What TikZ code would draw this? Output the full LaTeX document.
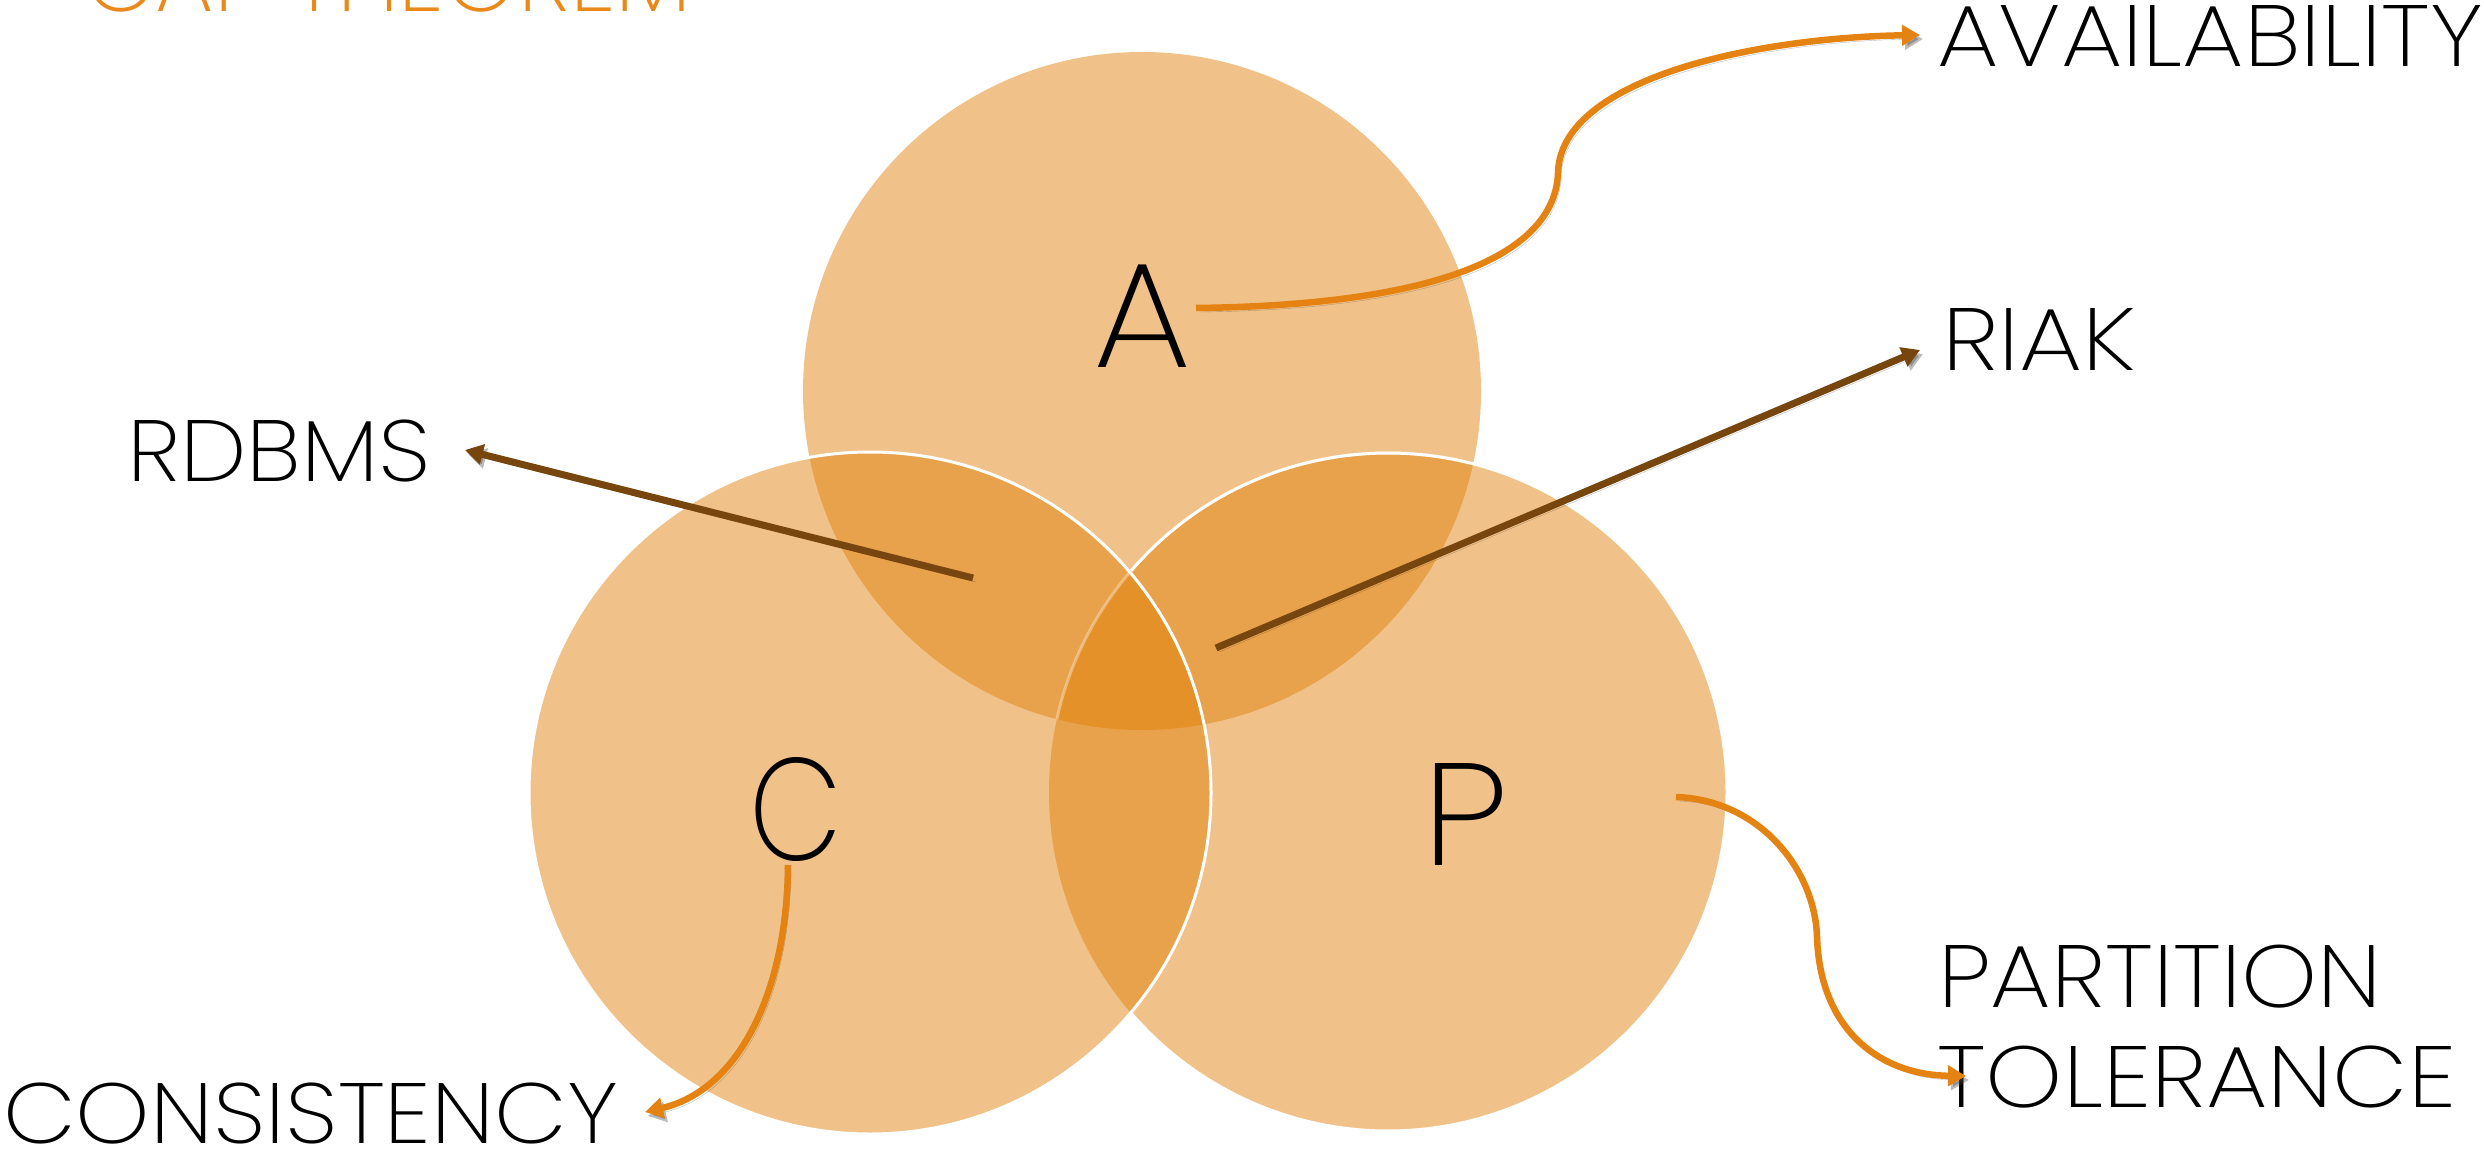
\documentclass[tikz,border=0pt]{standalone}
\usepackage{fontspec}
\usepackage{graphicx}
\IfFontExistsTF{Poppins ExtraLight}{\setmainfont{Poppins ExtraLight}}{%
 \IfFontExistsTF{Poppins Light}{\setmainfont{Poppins Light}}{%
  \IfFontExistsTF{Open Sans Light}{\setmainfont{Open Sans Light}}{%
    \setmainfont{Fira Sans}}}}
\usetikzlibrary{arrows.meta}
\definecolor{circ}{RGB}{225,127,7}
\definecolor{arrO}{RGB}{229,131,18}
\definecolor{arrB}{RGB}{118,70,14}
\definecolor{ttl}{RGB}{232,137,25}
\newlength\fitwd
\newlength\fitht
% #1 target width, #2 target cap height, #3 text
\newcommand\fitw[3]{\settowidth\fitwd{#3}\settoheight\fitht{H}\pgfmathsetmacro\fitratio{#1/\fitwd}\pgfmathsetmacro\fitvr{#2/\fitht}\scalebox{\fitratio}[\fitvr]{#3}}
\begin{document}
\begin{tikzpicture}[x=1pt,y=1pt,
  venn/.style={fill=circ, fill opacity=0.475},
  outl/.style={draw=white, line width=3pt},
  shad/.style={preaction={draw=black!75, opacity=0.35, transform canvas={shift={(3pt,-4pt)}}}},
  oarrow/.style={shad, draw=arrO, line width=6.5pt, -{Triangle[length=18pt,width=20pt]}},
  barrow/.style={shad, draw=arrB, line width=7pt, -{Triangle[length=18pt,width=20pt]}},
  lbl/.style={anchor=base west, inner sep=0pt, text=black, font=\fontsize{86}{100}\selectfont},
  big/.style={anchor=base, inner sep=0pt, text=black, font=\fontsize{146}{160}\selectfont},
  ttlstyle/.style={anchor=base west, inner sep=0pt, text=ttl, font=\fontsize{94}{100}\selectfont}]
\clip (0,0) rectangle (2484,-1153);
\fill[white] (0,0) rectangle (2484,-1153);

% circles
\coordinate (cA) at (1142,-391);
\coordinate (cC) at (870,-793);
\coordinate (cP) at (1388,-792);
\fill[venn] (cA) circle[radius=339];
\fill[venn] (cC) circle[radius=341];
\fill[venn] (cP) circle[radius=339];

% white outlines
\begin{scope}
  \clip (cA) circle[radius=339];
  \draw[outl, opacity=0.35] (cP) circle[radius=339];
\end{scope}
\draw[outl] (cP) ++(139.2:339) arc[start angle=139.2, end angle=-139.2, radius=339];
\draw[outl] (cC) circle[radius=341];

% title (cut by the top edge)
\node[ttlstyle] (title) at (84,-12) {\fitw{608pt}{66pt}{CAP THEOREM}};

% circle letters
\node[big] (lA) at (1142,-367) {\fitw{98pt}{105pt}{A}};
\node[big] (lC) at (796,-860) {\fitw{93pt}{102pt}{C}};
\node[big] (lP) at (1465,-865) {\fitw{86pt}{102pt}{P}};

% labels
\node[lbl] (avail) at (1937,-67) {\fitw{546pt}{61pt}{AVAILABILITY}};
\node[lbl] (riak) at (1942,-370) {\fitw{194pt}{62pt}{RIAK}};
\node[lbl] (rdbms) at (127,-481) {\fitw{304pt}{61pt}{RDBMS}};
\node[lbl] (cons) at (3,-1143) {\fitw{615pt}{60pt}{CONSISTENCY}};
\node[lbl] (part) at (1938,-1007) {\fitw{444pt}{62pt}{PARTITION}};
\node[lbl] (tol) at (1937,-1107) {\fitw{519pt}{61pt}{TOLERANCE}};

% arrow end points
\coordinate (aS) at (1196,-308);
\coordinate (aM) at (1558,-173);
\coordinate (aT) at (1920,-35);
\coordinate (rS) at (1216,-648);
\coordinate (rT) at (1920,-350);
\coordinate (dS) at (973,-578);
\coordinate (dT) at (465,-450);
\coordinate (cS) at (788,-865);
\coordinate (cT) at (645,-1112);
\coordinate (pS) at (1676,-797);
\coordinate (pM) at (1817,-937);
\coordinate (pT) at (1966,-1076);

% arrows
\draw[oarrow] (aS) .. controls (1450,-305) and (1555,-250) .. (aM)
                   .. controls (1560,-80) and (1750,-38) .. (aT);
\draw[barrow] (rS) -- (rT);
\draw[barrow] (dS) -- (dT);
\draw[oarrow] (cS) .. controls (787,-990) and (740,-1090) .. (cT);
\draw[oarrow] (pS) .. controls (1760,-800) and (1815,-870) .. (pM)
                   .. controls (1820,-1030) and (1880,-1075) .. (pT);
\end{tikzpicture}
\end{document}
